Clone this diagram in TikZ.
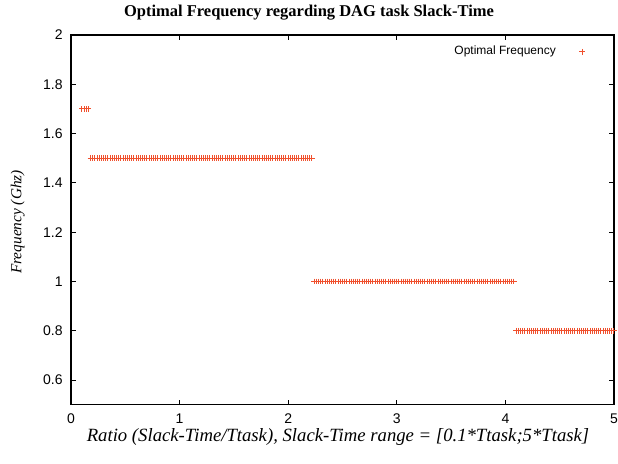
\documentclass[tikz,border=0pt]{standalone}
\usepackage{fontspec}
\setmainfont{Liberation Serif}
\setsansfont{Liberation Sans}
\usetikzlibrary{positioning}
\definecolor{plotRed}{RGB}{240,80,45}
\tikzstyle{frameLine} = [draw, line width=1.2pt]
\tikzstyle{tickLine} = [line width=0.9pt]
\tikzstyle{tickLabel} = [font=\sffamily\fontsize{14}{14}\selectfont, inner sep=0pt]
\tikzstyle{axisLabel} = [font=\itshape\fontsize{18.7}{18.7}\selectfont, inner sep=0pt]
\tikzstyle{sideLabel} = [axisLabel, font=\itshape\fontsize{15.3}{15.3}\selectfont]
\tikzstyle{titleLabel} = [font=\bfseries\fontsize{16.5}{16.5}\selectfont, inner sep=0pt]
\tikzstyle{legendText} = [font=\sffamily\fontsize{12}{12}\selectfont, inner sep=0pt]
\tikzstyle{freqMarks} = [color=plotRed, line width=1pt, only marks, mark=+, mark size=2.8pt, mark options={color=plotRed}]

\begin{document}
\begin{tikzpicture}[x=108.6pt, y=246.5pt]
	\useasboundingbox[fill=white] (-0.6538,0.2637) rectangle (5.0368,2.142);
	\foreach \xv in {0,...,5} {
		\draw[tickLine] (\xv,0.5) -- ++(0,5pt);
		\draw[tickLine] (\xv,2) -- ++(0,-5pt);
		\node (xtick\xv) [tickLabel] at (\xv,0.442) {\xv};
	}
	\foreach \yv/\yl [count=\k] in {0.6/0.6,0.8/0.8,1/1,1.2/1.2,1.4/1.4,1.6/1.6,1.8/1.8,2/2} {
		\draw[tickLine] (0,\yv) -- ++(5pt,0);
		\draw[tickLine] (5,\yv) -- ++(-5pt,0);
		\node (ytick\k) [tickLabel, anchor=east] at (-0.076,\yv) {\yl};
	}
	\draw[frameLine] (0,0.5) rectangle (5,2);
	\node (title) [titleLabel] at (2.1915,2.089) {Optimal Frequency regarding DAG task Slack-Time};
	\node (xlabel) [axisLabel] at (2.4586,0.369) {Ratio (Slack-Time/Ttask), Slack-Time range = [0.1*Ttask;5*Ttask]};
	\node (ylabel) [sideLabel, rotate=90] at (-0.49,1.2414) {Frequency (Ghz)};
	\node (legend) [legendText, anchor=east] at (4.466,1.932) {Optimal Frequency};
	\coordinate [right=26pt of legend.east] (legendMark);
	\draw[freqMarks] plot coordinates {(legendMark)};
	% one mark every 0.02
	\draw[freqMarks] plot[domain=0.1:0.16, samples=4] (\x,1.7);
	\draw[freqMarks] plot[domain=0.18:2.22, samples=103] (\x,1.5);
	\draw[freqMarks] plot[domain=2.24:4.08, samples=93] (\x,1);
	\draw[freqMarks] plot[domain=4.1:5, samples=46] (\x,0.8);
\end{tikzpicture}
\end{document}
